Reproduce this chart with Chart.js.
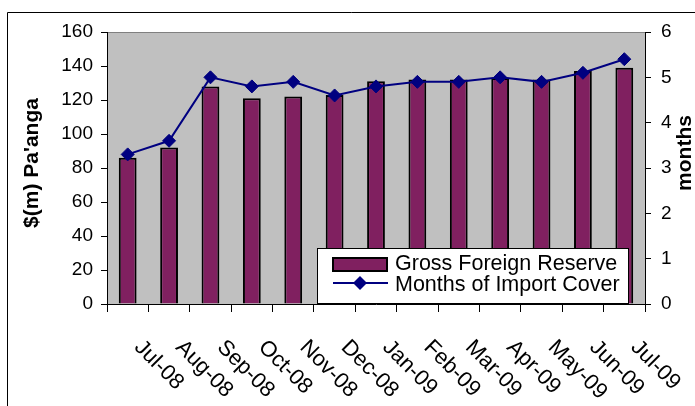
<!DOCTYPE html>
<html>
<head>
<meta charset="utf-8">
<script src="https://cdn.jsdelivr.net/npm/chart.js@4.4.1/dist/chart.umd.min.js"></script>
<style>
  html, body { margin: 0; padding: 0; background: #fff; }
  #wrap { position: relative; width: 695px; height: 406px; }
</style>
</head>
<body>
<div id="wrap"><canvas id="reserveChart" width="695" height="406"></canvas></div>
<script>
const months = ['Jul-08', 'Aug-08', 'Sep-08', 'Oct-08', 'Nov-08', 'Dec-08', 'Jan-09',
                'Feb-09', 'Mar-09', 'Apr-09', 'May-09', 'Jun-09', 'Jul-09'];
const grossReserve = [86, 92, 128, 121, 122, 123, 131, 132, 132, 133, 132, 137, 139];
const importCover = [3.3, 3.6, 5.0, 4.8, 4.9, 4.6, 4.8, 4.9, 4.9, 5.0, 4.9, 5.1, 5.4];
const leftTicks = [0, 20, 40, 60, 80, 100, 120, 140, 160];
const rightTicks = [0, 1, 2, 3, 4, 5, 6];

const FONT = '"Liberation Sans", Arial, sans-serif';
const BAR_COLOR = '#802060';
const LINE_COLOR = '#000080';

// gray plot area, outer frame, rotated month labels, axis titles and the boxed legend
const decorations = {
    id: 'decorations',
    beforeDraw(chart) {
        const { ctx, chartArea: a } = chart;
        ctx.save();
        ctx.fillStyle = '#c0c0c0';
        ctx.fillRect(a.left, a.top, a.right - a.left, a.bottom - a.top);
        ctx.strokeStyle = '#808080';
        ctx.lineWidth = 1;
        ctx.beginPath();
        ctx.moveTo(a.left, a.top + 0.5);
        ctx.lineTo(a.right, a.top + 0.5);
        ctx.stroke();
        // frame around the whole chart
        ctx.strokeStyle = '#000';
        ctx.beginPath();
        ctx.moveTo(7.5, 410);
        ctx.lineTo(7.5, 12.5);
        ctx.lineTo(700, 12.5);
        ctx.stroke();
        ctx.restore();
    },
    afterDraw(chart) {
        const { ctx, chartArea: a } = chart;
        const xs = chart.scales.x;
        ctx.save();
        ctx.fillStyle = '#000';

        // month labels slanting down to the right
        ctx.font = '22px ' + FONT;
        ctx.textAlign = 'left';
        ctx.textBaseline = 'middle';
        months.forEach((m, i) => {
            const x = xs.getPixelForValue(i);
            ctx.save();
            ctx.translate(x + 10, a.bottom + 40);
            ctx.rotate(Math.PI / 4);
            ctx.fillText(m, 0, 0);
            ctx.restore();
        });

        // axis titles, both reading upward
        ctx.font = 'bold 21px ' + FONT;
        ctx.textAlign = 'center';
        ctx.textBaseline = 'middle';
        ctx.save();
        ctx.translate(32, 163);
        ctx.rotate(-Math.PI / 2);
        ctx.fillText("$(m) Pa'anga", 0, 0);
        ctx.restore();
        ctx.save();
        ctx.translate(685, 153);
        ctx.rotate(-Math.PI / 2);
        ctx.fillText('months', 0, 0);
        ctx.restore();

        // legend box
        const lx = 317.5, ly = 248.5, lw = 311, lh = 55;
        ctx.fillStyle = '#fff';
        ctx.fillRect(lx, ly, lw, lh);
        ctx.strokeStyle = '#000';
        ctx.lineWidth = 1;
        ctx.strokeRect(lx, ly, lw, lh);

        ctx.fillStyle = BAR_COLOR;
        ctx.fillRect(333, 258, 54, 13);
        ctx.lineWidth = 2;
        ctx.strokeRect(333, 258, 54, 13);

        ctx.strokeStyle = LINE_COLOR;
        ctx.lineWidth = 2;
        ctx.beginPath();
        ctx.moveTo(333, 283);
        ctx.lineTo(388, 283);
        ctx.stroke();
        ctx.fillStyle = LINE_COLOR;
        ctx.beginPath();
        ctx.moveTo(360, 276);
        ctx.lineTo(367, 283);
        ctx.lineTo(360, 290);
        ctx.lineTo(353, 283);
        ctx.closePath();
        ctx.fill();

        ctx.fillStyle = '#000';
        ctx.font = '21.5px ' + FONT;
        ctx.textAlign = 'left';
        ctx.textBaseline = 'middle';
        ctx.fillText('Gross Foreign Reserve', 395, 264);
        ctx.fillText('Months of Import Cover', 395, 285);
        ctx.restore();
    }
};

const ctx = document.getElementById('reserveChart').getContext('2d');
const reserveChart = new Chart(ctx, {
    type: 'bar',
    data: {
        labels: months,
        datasets: [
            {
                type: 'line',
                label: 'Months of Import Cover',
                data: importCover,
                yAxisID: 'y1',
                borderColor: LINE_COLOR,
                backgroundColor: LINE_COLOR,
                borderWidth: 2,
                pointStyle: 'rectRot',
                pointRadius: 6.5,
                pointBorderWidth: 1,
                tension: 0,
                order: 0
            },
            {
                type: 'bar',
                label: 'Gross Foreign Reserve',
                data: grossReserve,
                yAxisID: 'y',
                backgroundColor: BAR_COLOR,
                borderColor: '#000',
                borderWidth: 2,
                categoryPercentage: 1,
                barPercentage: 0.43,
                order: 1
            }
        ]
    },
    options: {
        responsive: false,
        animation: false,
        layout: { padding: { top: 32, left: 0, right: 0, bottom: 0 } },
        plugins: {
            legend: { display: false },
            tooltip: { enabled: false }
        },
        scales: {
            x: {
                offset: true,
                grid: { offset: true, drawOnChartArea: false, drawTicks: true, tickLength: 8, color: '#000' },
                border: { color: '#000', width: 1 },
                ticks: { display: false },
                afterFit(scale) { scale.height = 102; }
            },
            y: {
                position: 'left',
                min: 0,
                max: 160,
                afterBuildTicks(scale) { scale.ticks = leftTicks.map(v => ({ value: v })); },
                grid: { drawOnChartArea: false, tickLength: 6, color: '#000' },
                border: { color: '#000', width: 1 },
                ticks: { color: '#000', font: { family: FONT, size: 19 }, padding: 8 },
                afterFit(scale) { scale.width = 107; }
            },
            y1: {
                position: 'right',
                min: 0,
                max: 6,
                afterBuildTicks(scale) { scale.ticks = rightTicks.map(v => ({ value: v })); },
                grid: { drawOnChartArea: false, tickLength: 6, color: '#000' },
                border: { color: '#000', width: 1 },
                ticks: { color: '#000', font: { family: FONT, size: 19 }, padding: 10 },
                afterFit(scale) { scale.width = 50; }
            }
        }
    },
    plugins: [decorations]
});
</script>
</body>
</html>
